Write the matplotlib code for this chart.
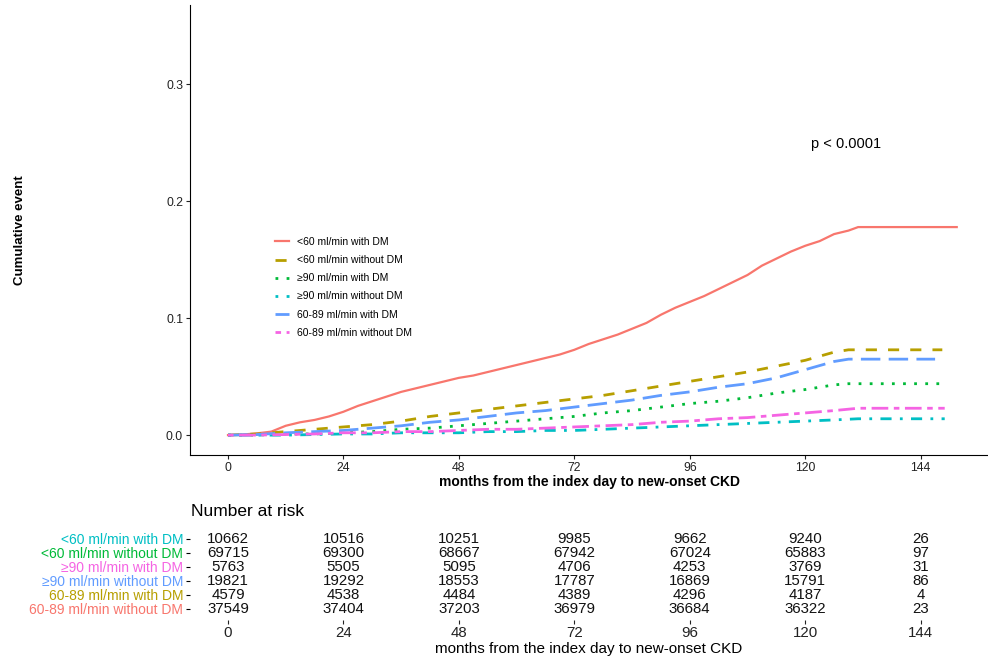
import numpy as np
import matplotlib
matplotlib.use("Agg")
import matplotlib.pyplot as plt

plt.rcParams['font.family'] = ['Liberation Sans', 'DejaVu Sans']

# cumulative incidence curves (months, cumulative event)
grid = [0, 6, 12, 18, 24, 30, 36, 42, 48, 54, 60, 66, 72, 78, 84, 90, 96, 102, 108, 114, 120, 126]

red_t = [0, 3, 6, 9, 12, 15, 18, 21, 24, 27, 30, 33, 36, 39, 42, 45, 48, 51, 54, 57, 60, 63, 66, 69,
         72, 75, 78, 81, 84, 87, 90, 93, 96, 99, 102, 105, 108, 111, 114, 117, 120, 123, 126, 129, 131, 151.5]
red_v = [0, 0.0005, 0.0015, 0.003, 0.008, 0.011, 0.013, 0.016, 0.020, 0.025, 0.029, 0.033, 0.037, 0.040,
         0.043, 0.046, 0.049, 0.051, 0.054, 0.057, 0.060, 0.063, 0.066, 0.069, 0.073, 0.078, 0.082, 0.086,
         0.091, 0.096, 0.103, 0.109, 0.114, 0.119, 0.125, 0.131, 0.137, 0.145, 0.151, 0.157, 0.162, 0.166,
         0.172, 0.175, 0.178, 0.178]

gold_t = grid + [129, 148.5]
gold_v = [0, 0.001, 0.003, 0.005, 0.007, 0.009, 0.012, 0.016, 0.019, 0.022, 0.025, 0.028, 0.031, 0.034,
          0.038, 0.042, 0.046, 0.050, 0.054, 0.059, 0.064, 0.071, 0.073, 0.073]

green_t = grid + [129, 148]
green_v = [0, 0, 0.001, 0.001, 0.002, 0.003, 0.005, 0.006, 0.008, 0.010, 0.012, 0.014, 0.016, 0.019,
           0.021, 0.024, 0.027, 0.029, 0.032, 0.036, 0.039, 0.043, 0.044, 0.044]

teal_t = grid + [131, 149]
teal_v = [0, 0, 0, 0.0005, 0.001, 0.001, 0.002, 0.002, 0.002, 0.003, 0.003, 0.004, 0.004, 0.005,
          0.006, 0.007, 0.008, 0.009, 0.010, 0.011, 0.012, 0.013, 0.014, 0.014]

blue_t = grid + [129, 147]
blue_v = [0, 0.0005, 0.002, 0.003, 0.004, 0.006, 0.008, 0.011, 0.013, 0.016, 0.019, 0.021, 0.024, 0.027,
          0.030, 0.034, 0.037, 0.041, 0.044, 0.049, 0.056, 0.063, 0.065, 0.065]

pink_t = grid + [131, 149]
pink_v = [0, 0, 0.0005, 0.001, 0.002, 0.002, 0.003, 0.003, 0.004, 0.005, 0.005, 0.006, 0.007, 0.008,
          0.009, 0.011, 0.012, 0.014, 0.015, 0.017, 0.019, 0.021, 0.023, 0.023]

labels = ["<60 ml/min with DM", "<60 ml/min without DM", "\u226590 ml/min with DM",
          "\u226590 ml/min without DM", "60-89 ml/min with DM", "60-89 ml/min without DM"]
colors = ["#F8766D", "#B79F00", "#00BA38", "#00BFC4", "#619CFF", "#F564E3"]
styles = ["-", (0, (4, 4)), (0, (1, 3)), (0, (1, 3, 4, 3)), (0, (7, 3)), (0, (2, 2, 6, 2))]
widths = [1.6, 2.0, 2.0, 2.0, 2.0, 2.0]
series = [(red_t, red_v), (gold_t, gold_v), (green_t, green_v),
          (teal_t, teal_v), (blue_t, blue_v), (pink_t, pink_v)]

# number at risk table
risk_times = [0, 24, 48, 72, 96, 120, 144]
risk_labels = ["<60 ml/min with DM", "<60 ml/min without DM", "\u226590 ml/min with DM",
               "\u226590 ml/min without DM", "60-89 ml/min with DM", "60-89 ml/min without DM"]
risk_colors = ["#00BFC4", "#00BA38", "#F564E3", "#619CFF", "#B79F00", "#F8766D"]
risk = [
    [10662, 10516, 10251, 9985, 9662, 9240, 26],
    [69715, 69300, 68667, 67942, 67024, 65883, 97],
    [5763, 5505, 5095, 4706, 4253, 3769, 31],
    [19821, 19292, 18553, 17787, 16869, 15791, 86],
    [4579, 4538, 4484, 4389, 4296, 4187, 4],
    [37549, 37404, 37203, 36979, 36684, 36322, 23],
]

W, H = 988, 662
fig = plt.figure(figsize=(W / 100, H / 100), dpi=100)

ax = fig.add_axes([190 / W, 1 - 455 / H, 1 - 190 / W, 450 / H])
for (t, v), c, ls, lw, lab in zip(series, colors, styles, widths, labels):
    ax.plot(t, v, color=c, ls=ls, lw=lw, label=lab)

ax.set_xlim(-7.9, 158)
ax.set_ylim(-0.017, 0.368)
ax.set_xticks(risk_times)
ax.set_yticks([0, 0.1, 0.2, 0.3])
ax.set_yticklabels(["0.0", "0.1", "0.2", "0.3"])
ax.spines['top'].set_visible(False)
ax.spines['right'].set_visible(False)
ax.tick_params(length=3, width=0.8, labelsize=8.8, colors='#222222', pad=2)
ax.set_xlabel("months from the index day to new-onset CKD", fontsize=10, fontweight='bold', labelpad=1)
ax.set_ylabel("Cumulative event", fontsize=9.5, fontweight='bold')
ax.yaxis.set_label_coords(-0.205, 0.5)
ax.text(128.4, 0.249, "p < 0.0001", fontsize=10.5, ha='center', va='center')

leg = ax.legend(loc='upper left', bbox_to_anchor=(0.095, 0.505), frameon=False, fontsize=7.5,
                handlelength=1.3, handletextpad=0.8, labelspacing=0.78)

# risk table
tab = fig.add_axes([190 / W, 1 - 620 / H, 1 - 190 / W, 88 / H])
tab.set_xlim(-7.9, 158)
tab.set_ylim(0.21, 6.5)
for i, row in enumerate(risk):
    y = 6 - i
    for t, n in zip(risk_times, row):
        tab.text(t, y, str(n), ha='center', va='center', fontsize=10.8, color='#111111')
tab.set_yticks([6 - i for i in range(len(risk_labels))])
tab.set_yticklabels(risk_labels)
for lab, c in zip(tab.get_yticklabels(), risk_colors):
    lab.set_color(c)
tab.set_xticks(risk_times)
for s in tab.spines.values():
    s.set_visible(False)
tab.tick_params(axis='y', length=3, width=0.8, labelsize=10, pad=2)
tab.tick_params(axis='x', length=3, width=0.8, labelsize=10.8, pad=1, colors='#222222')
tab.set_xlabel("months from the index day to new-onset CKD", fontsize=11, labelpad=2)
fig.text(191 / W, 1 - 512 / H, "Number at risk", fontsize=12.5, ha='left', va='center')

fig.savefig("out.png", dpi=100)
